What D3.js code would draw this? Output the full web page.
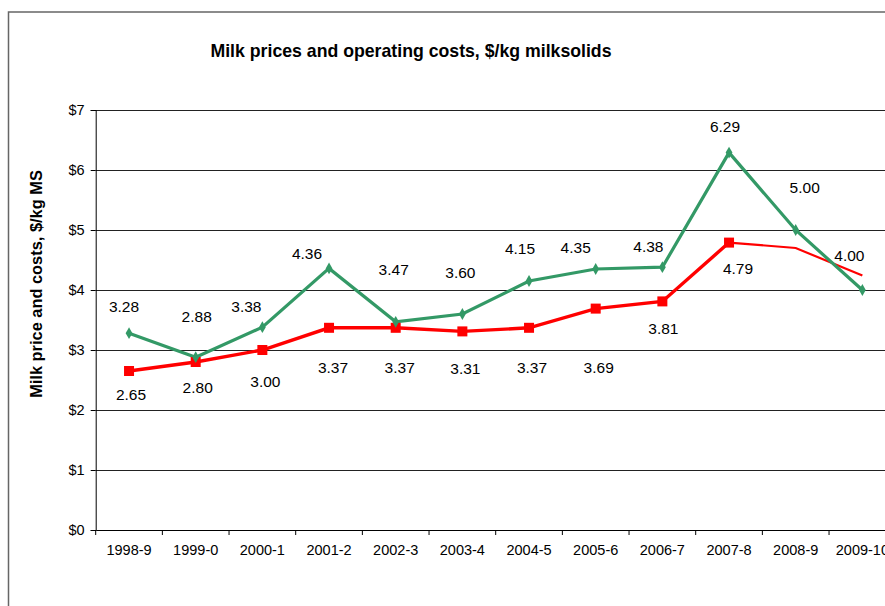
<!DOCTYPE html>
<html>
<head>
<meta charset="utf-8">
<script src="https://cdn.jsdelivr.net/npm/d3@7"></script>
<style>
  body { margin: 0; background: #fff; }
  text { font-family: "Liberation Sans", Arial, sans-serif; fill: #000; }
</style>
</head>
<body>
<svg id="chart"></svg>
<script>
const seasons = ["1998-9", "1999-0", "2000-1", "2001-2", "2002-3", "2003-4", "2004-5", "2005-6", "2006-7", "2007-8", "2008-9", "2009-10"];
const milkPrice = [3.28, 2.88, 3.38, 4.36, 3.47, 3.60, 4.15, 4.35, 4.38, 6.29, 5.00, 4.00];
const operatingCost = [2.65, 2.80, 3.00, 3.37, 3.37, 3.31, 3.37, 3.69, 3.81, 4.79, 4.70, 4.24];
const yTicks = [0, 1, 2, 3, 4, 5, 6, 7];
// the last two cost points have no marker or label
const costLabelled = 10;

// hand-placed label nudges (px from the point), as in the original
const priceLabelDx = [-5, 1, -16, -22, -2, -2, -9, -20, -14, -4, 9, -13];
const priceLabelDy = [-27, -41, -21, -15, -52, -41, -32, -21, -21, -26, -42, -34];
const costLabelDx = [2, 2, 3, 4, 4, 3, 3, 3, 1, 9];
const costLabelDy = [24, 26, 32, 40, 40, 37, 40, 59, 27, 26];

const width = 885;
const height = 606;
const margin = { top: 110, left: 95.7, bottom: 76 };
const plotW = 800;

const svg = d3.select("#chart")
  .attr("width", width)
  .attr("height", height);

// outer frame
svg.append("rect")
  .attr("x", 8.5)
  .attr("y", 12)
  .attr("width", 900)
  .attr("height", 700)
  .attr("fill", "none")
  .attr("stroke", "#666")
  .attr("stroke-width", 1.5);

const x = d3.scaleBand()
  .domain(seasons)
  .range([margin.left, margin.left + plotW]);

const y = d3.scaleLinear()
  .domain([0, 7])
  .range([height - margin.bottom, margin.top]);

const cx = d => x(d) + x.bandwidth() / 2;

// gridlines
svg.append("g")
  .selectAll("line")
  .data(yTicks.slice(1))
  .enter().append("line")
  .attr("x1", margin.left)
  .attr("x2", margin.left + plotW)
  .attr("y1", d => Math.round(y(d)) + 0.5)
  .attr("y2", d => Math.round(y(d)) + 0.5)
  .attr("stroke", "#222")
  .attr("stroke-width", 1);

// y axis
const yAxis = svg.append("g")
  .attr("transform", `translate(${margin.left},0)`)
  .call(d3.axisLeft(y).tickValues(yTicks).tickFormat(d => "$" + d).tickSize(5).tickPadding(6));
yAxis.selectAll("text").style("font-size", "14.5px");
yAxis.selectAll("line, path").attr("stroke", "#000");

// x axis
const xAxis = svg.append("g")
  .attr("transform", `translate(0,${y(0)})`)
  .call(d3.axisBottom(x).tickSize(0).tickPadding(15));
xAxis.selectAll("text").style("font-size", "14.5px");
xAxis.select("path").attr("stroke", "#000");
xAxis.selectAll(".sep")
  .data(seasons)
  .enter().append("line")
  .attr("class", "sep")
  .attr("x1", d => x(d))
  .attr("x2", d => x(d))
  .attr("y1", 0)
  .attr("y2", 5)
  .attr("stroke", "#000");

// lines
const line = d3.line()
  .x((d, i) => cx(seasons[i]))
  .y(d => y(d));

const costPts = operatingCost.map((v, i) => ({ v, i }));
const costLine = d3.line().x(d => cx(seasons[d.i])).y(d => y(d.v));

svg.append("path")
  .datum(costPts.slice(0, costLabelled))
  .attr("d", costLine)
  .attr("fill", "none")
  .attr("stroke", "#ff0000")
  .attr("stroke-width", 3.4);

svg.append("path")
  .datum(costPts.slice(costLabelled - 1))
  .attr("d", costLine)
  .attr("fill", "none")
  .attr("stroke", "#ff0000")
  .attr("stroke-width", 2.2);

svg.append("path")
  .datum(milkPrice)
  .attr("d", line)
  .attr("fill", "none")
  .attr("stroke", "#339966")
  .attr("stroke-width", 3.2);

// markers
svg.append("g")
  .selectAll("rect")
  .data(costPts.slice(0, costLabelled))
  .enter().append("rect")
  .attr("x", d => cx(seasons[d.i]) - 5)
  .attr("y", d => y(d.v) - 5)
  .attr("width", 10)
  .attr("height", 10)
  .attr("fill", "#ff0000");

svg.append("g")
  .selectAll("path")
  .data(milkPrice)
  .enter().append("path")
  .attr("d", d3.symbol().type(d3.symbolDiamond).size(40))
  .attr("transform", (d, i) => `translate(${cx(seasons[i])},${y(d)})`)
  .attr("fill", "#339966");

// value labels
svg.append("g")
  .selectAll("text")
  .data(milkPrice)
  .enter().append("text")
  .attr("x", (d, i) => cx(seasons[i]) + priceLabelDx[i])
  .attr("y", (d, i) => y(d) + priceLabelDy[i])
  .attr("dy", "0.35em")
  .attr("text-anchor", "middle")
  .style("font-size", "15.5px")
  .text(d => d.toFixed(2));

svg.append("g")
  .selectAll("text")
  .data(costPts.slice(0, costLabelled))
  .enter().append("text")
  .attr("x", d => cx(seasons[d.i]) + costLabelDx[d.i])
  .attr("y", d => y(d.v) + costLabelDy[d.i])
  .attr("dy", "0.35em")
  .attr("text-anchor", "middle")
  .style("font-size", "15.5px")
  .text(d => d.v.toFixed(2));

// titles
svg.append("text")
  .attr("x", 411)
  .attr("y", 57)
  .attr("text-anchor", "middle")
  .style("font-size", "17.7px")
  .style("font-weight", "bold")
  .text("Milk prices and operating costs, $/kg milksolids");

svg.append("text")
  .attr("transform", "translate(42,284) rotate(-90)")
  .attr("text-anchor", "middle")
  .style("font-size", "16.4px")
  .style("font-weight", "bold")
  .text("Milk price and costs, $/kg MS");
</script>
</body>
</html>
